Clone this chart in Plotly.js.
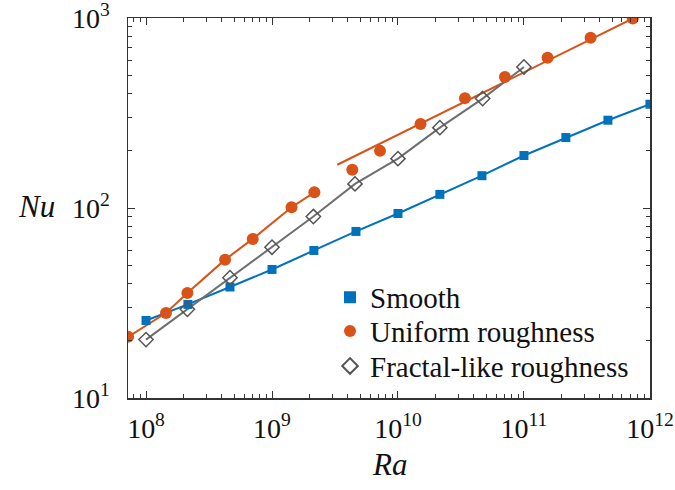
<!DOCTYPE html>
<html><head><meta charset="utf-8">
<script src="https://cdn.plot.ly/plotly-3.0.1.min.js"></script>
<style>body{margin:0;background:#fff}#c{width:675px;height:490px}</style>
</head><body><div id="c"></div>
<script>
// Smooth
const smoothRa = [1e8, 2.15e8, 4.64e8, 1e9, 2.15e9, 4.64e9, 1e10, 2.15e10, 4.64e10, 1e11, 2.15e11, 4.64e11, 1e12];
const smoothNu = [25.6, 31.1, 38.4, 47.5, 59.8, 75.3, 93.6, 118, 148, 189, 235, 290, 352];
// Uniform roughness (low Ra, connected)
const uniLowRa = [7.2e7, 1.44e8, 2.13e8, 4.24e8, 7.03e8, 1.43e9, 2.17e9];
const uniLowNu = [21, 28, 35.7, 53.5, 68.8, 101, 121];
// Uniform roughness (high Ra, with fit)
const uniHighRa = [4.34e9, 7.2e9, 1.51e10, 3.4e10, 7.06e10, 1.54e11, 3.38e11, 7.3e11];
const uniHighNu = [159, 200, 277, 379, 490, 619, 788, 995];
const uniFitRa = [3.3e9, 7.3e11];
const uniFitNu = [169, 995];
// Fractal-like roughness
const fracRa = [1e8, 2.13e8, 4.64e8, 1e9, 2.13e9, 4.56e9, 1e10, 2.15e10, 4.7e10, 1e11];
const fracNu = [20.3, 29.3, 43, 62.2, 90.2, 134, 182, 265, 377, 553];
const names = ["Smooth", "Uniform roughness", "Fractal-like roughness"];
// Tick labels
const xTickExp = [8, 9, 10, 11, 12];
const yTickExp = [1, 2, 3];

function majorVals(exps) { return exps.map(e => Math.pow(10, e)); }
function majorText(exps) { return exps.map(e => "10<sup>" + e + "</sup>"); }
function minorVals(lo, hi) {
  const v = [];
  for (let e = lo; e <= hi; e++) for (let m = 2; m <= 9; m++) v.push(m * Math.pow(10, e));
  return v;
}

const BLUE = "#0072BD", ORANGE = "#D95319", GRAY = "#6f6f6f";
const FONT = "Liberation Serif";
const traces = [
  {x: smoothRa, y: smoothNu, mode: "lines", line: {color: BLUE, width: 2}, showlegend: false},
  {x: uniLowRa, y: uniLowNu, mode: "lines", line: {color: ORANGE, width: 2}, showlegend: false},
  {x: uniFitRa, y: uniFitNu, mode: "lines", line: {color: ORANGE, width: 2}, showlegend: false},
  {x: fracRa, y: fracNu, mode: "lines", line: {color: GRAY, width: 2}, showlegend: false},
  {x: smoothRa, y: smoothNu, mode: "markers", name: names[0], legend: "legend",
   marker: {symbol: "square", size: 9, color: BLUE}},
  {x: uniLowRa.concat(uniHighRa), y: uniLowNu.concat(uniHighNu), mode: "markers", name: names[1], legend: "legend2",
   marker: {symbol: "circle", size: 12, color: ORANGE}},
  {x: fracRa, y: fracNu, mode: "markers", name: names[2], legend: "legend3",
   marker: {symbol: "diamond-open", size: 11, color: "#555", line: {width: 1.5}}}
];
const axisCommon = {
  type: "log", tickmode: "array", ticklabeloverflow: "allow",
  ticks: "inside", ticklen: 7, tickwidth: 1, tickcolor: "#333",
  showline: true, linecolor: "#333", linewidth: 1.5, mirror: "allticks",
  showgrid: false, zeroline: false,
  tickfont: {family: FONT, size: 28, color: "#111"}
};
function leg(y) {
  return {x: 0.387, y: y, xanchor: "left", yanchor: "middle", bgcolor: "rgba(0,0,0,0)",
    font: {family: FONT, size: 29, color: "#111"}, itemsizing: "constant", itemwidth: 30};
}
const layout = {
  width: 675, height: 490,
  margin: {l: 128, r: 25, t: 18, b: 92},
  paper_bgcolor: "#fff", plot_bgcolor: "#fff",
  xaxis: Object.assign({}, axisCommon, {range: [7.857, 12.0005], ticklabelstandoff: 5,
    tickvals: majorVals(xTickExp), ticktext: majorText(xTickExp),
    minor: {tickmode: "array", tickvals: minorVals(7, 11), ticks: "inside", ticklen: 4, tickcolor: "#333", showgrid: false}}),
  yaxis: Object.assign({}, axisCommon, {range: [1, 3.0005], ticklabelstandoff: 11,
    tickvals: majorVals(yTickExp), ticktext: majorText(yTickExp),
    minor: {tickmode: "array", tickvals: minorVals(1, 2), ticks: "inside", ticklen: 4, tickcolor: "#333", showgrid: false}}),
  showlegend: true,
  legend: leg(0.265),
  legend2: leg(0.176),
  legend3: leg(0.084),
  annotations: [
    {text: "<i>Nu</i>", xref: "paper", yref: "paper", x: -0.175, y: 0.505, xanchor: "center", yanchor: "middle", showarrow: false,
     font: {family: FONT, size: 31, color: "#111"}},
    {text: "<i>Ra</i>", xref: "paper", yref: "paper", x: 0.5, y: -0.176, xanchor: "center", yanchor: "middle", showarrow: false,
     font: {family: FONT, size: 31, color: "#111"}}
  ]
};
Plotly.newPlot("c", traces, layout, {displayModeBar: false, staticPlot: true});
</script></body></html>
